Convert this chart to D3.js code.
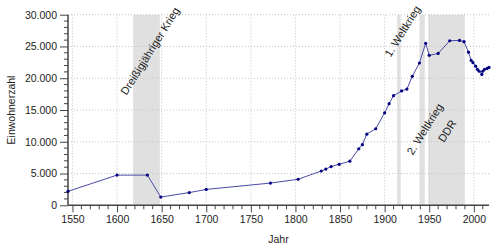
<!DOCTYPE html>
<html>
<head>
<meta charset="utf-8">
<script src="https://cdn.jsdelivr.net/npm/d3@7"></script>
<style>
  body { margin: 0; background: #fff; }
  svg { font-family: "Liberation Sans", Arial, sans-serif; }
</style>
</head>
<body>
<svg id="chart"></svg>
<script>
// population data
const years = [1545, 1600, 1634, 1649, 1681, 1700, 1772, 1803, 1829, 1834, 1840, 1849, 1861, 1871, 1875, 1880, 1890,
    1900, 1905, 1910, 1919, 1925, 1931, 1939, 1946, 1950, 1960, 1973, 1984, 1989, 1994, 1997, 1999, 2002, 2004,
    2006, 2009, 2010, 2012, 2015, 2017];
const population = [2200, 4750, 4750, 1300, 2000, 2500, 3500, 4100, 5400, 5700, 6100, 6450, 6950, 8900, 9550, 11200, 12050,
    14550, 16000, 17250, 18000, 18300, 20300, 22400, 25500, 23600, 23900, 25900, 25950, 25750, 24100, 22800, 22450, 21900, 21400,
    21100, 20600, 21100, 21400, 21550, 21700];

// shaded periods
const periodNames = ["Dreißigjähriger Krieg", "1. Weltkrieg", "2. Weltkrieg", "DDR"];
const periodStart = [1618, 1914, 1939, 1949];
const periodEnd = [1648, 1918, 1945, 1990];
// label centre (year, population)
const labelYear = [1637, 1920, 1945, 1970];
const labelValue = [24300, 27400, 12000, 11700];

const yTicks = [0, 5000, 10000, 15000, 20000, 25000, 30000];
const xTicks = [1550, 1600, 1650, 1700, 1750, 1800, 1850, 1900, 1950, 2000];

const width = 500;
const height = 250;
const svg = d3.select("#chart").attr("width", width).attr("height", height);

const x = d3.scaleLinear().domain(d3.extent(years)).range([68, 489]);
const y = d3.scaleLinear().domain([0, 30000]).range([205.3, 14.7]);

const fmt = v => d3.format(",")(v).replace(/,/g, ".");

// bands
const periods = periodNames.map((n, i) => ({name: n, a: periodStart[i], b: periodEnd[i], lx: labelYear[i], ly: labelValue[i]}));
svg.append("g").selectAll("rect")
    .data(periods)
    .join("rect")
        .attr("x", d => x(d.a))
        .attr("width", d => x(d.b) - x(d.a))
        .attr("y", y(30000))
        .attr("height", y(0) - y(30000))
        .attr("fill", "#e0e0e0");

// grid
const grid = svg.append("g")
    .attr("stroke", "#c4c4c4")
    .attr("stroke-width", 1)
    .attr("stroke-dasharray", "1,2");
grid.selectAll(".gy")
    .data(yTicks.slice(1))
    .join("line")
        .attr("x1", x.range()[0]).attr("x2", x.range()[1])
        .attr("y1", d => y(d)).attr("y2", d => y(d));
grid.selectAll(".gx")
    .data(xTicks)
    .join("line")
        .attr("x1", d => x(d)).attr("x2", d => x(d))
        .attr("y1", y.range()[0]).attr("y2", y.range()[1]);

// period labels
svg.append("g").selectAll("text")
    .data(periods)
    .join("text")
        .attr("transform", d => `translate(${x(d.lx)},${y(d.ly)}) rotate(-58)`)
        .attr("text-anchor", "middle")
        .attr("dy", "0.35em")
        .attr("font-size", 11)
        .attr("fill", "#222")
        .text(d => d.name);

// axes
const axisColor = "#444";
const yMinor = d3.range(0, 30001, 1000).filter(v => v % 5000 !== 0);
const xMinor = d3.range(1550, 2017, 10).filter(v => v % 50 !== 0);

const gy = svg.append("g").attr("transform", `translate(${x.range()[0]},0)`);
gy.call(d3.axisLeft(y).tickValues(yTicks).tickSize(8).tickPadding(3).tickFormat(fmt));
gy.selectAll(".minor")
    .data(yMinor)
    .join("line")
        .attr("x1", -4).attr("x2", 0)
        .attr("y1", d => y(d)).attr("y2", d => y(d))
        .attr("stroke", axisColor);

const gx = svg.append("g").attr("transform", `translate(0,${y.range()[0]})`);
gx.call(d3.axisBottom(x).tickValues(xTicks).tickSize(7).tickPadding(3).tickFormat(d3.format("d")));
gx.selectAll(".minor")
    .data(xMinor)
    .join("line")
        .attr("x1", d => x(d)).attr("x2", d => x(d))
        .attr("y1", 0).attr("y2", 4)
        .attr("stroke", axisColor);

for (const g of [gx, gy]) {
    g.selectAll(".domain").attr("stroke", axisColor).attr("stroke-width", 1.5);
    g.selectAll(".tick line").attr("stroke", axisColor);
    g.selectAll("text").attr("font-size", 10.5).attr("fill", "#222")
        .attr("font-family", "Liberation Sans, Arial, sans-serif");
}
gx.select(".domain").attr("d", `M${x.range()[0]},0H${x.range()[1]}`);
gy.select(".domain").attr("d", `M0,${y.range()[0]}V${y.range()[1]}`);

// line + points
const pts = years.map((yr, i) => [yr, population[i]]);
svg.append("path")
    .datum(pts)
    .attr("fill", "none")
    .attr("stroke", "#4a4aa8")
    .attr("stroke-width", 1)
    .attr("d", d3.line().x(d => x(d[0])).y(d => y(d[1])));
svg.append("g").selectAll("circle")
    .data(pts)
    .join("circle")
        .attr("cx", d => x(d[0]))
        .attr("cy", d => y(d[1]))
        .attr("r", 1.6)
        .attr("fill", "#000080");

// axis titles
svg.append("text")
    .attr("x", (x.range()[0] + x.range()[1]) / 2)
    .attr("y", 243)
    .attr("text-anchor", "middle")
    .attr("font-size", 10.5)
    .attr("fill", "#222")
    .text("Jahr");
svg.append("text")
    .attr("transform", `translate(15,${(y.range()[0] + y.range()[1]) / 2}) rotate(-90)`)
    .attr("text-anchor", "middle")
    .attr("font-size", 10.5)
    .attr("fill", "#222")
    .text("Einwohnerzahl");
</script>
</body>
</html>
